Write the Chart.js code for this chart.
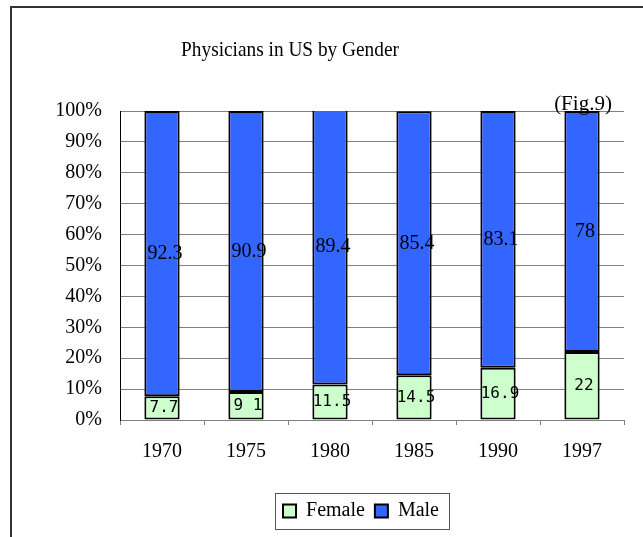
<!DOCTYPE html>
<html>
<head>
<meta charset="utf-8">
<script src="https://cdn.jsdelivr.net/npm/chart.js@4/dist/chart.umd.min.js"></script>
<style>
  html, body { margin: 0; padding: 0; background: #fff; overflow: hidden; }
  #wrap { position: relative; width: 643px; height: 537px; }
  #frame { position: absolute; left: 10px; top: 6px; width: 700px; height: 600px; border: 2px solid #333; box-sizing: border-box; }
  canvas { position: absolute; left: 0; top: 0; }
</style>
</head>
<body>
<div id="wrap">
  <div id="frame"></div>
  <canvas id="c" width="643" height="537"></canvas>
</div>
<script>
const chartTitle = 'Physicians in US by Gender';
const years = ['1970', '1975', '1980', '1985', '1990', '1997'];
const female = [7.7, 9.1, 11.5, 14.5, 16.9, 22];
const male = [92.3, 90.9, 89.4, 85.4, 83.1, 78];
const femaleLabels = ['7.7', '9 1', '11.5', '14.5', '16.9', '22'];
const maleLabels = ['92.3', '90.9', '89.4', '85.4', '83.1', '78'];
const yTicks = [0, 10, 20, 30, 40, 50, 60, 70, 80, 90, 100];

const SERIF = '"Liberation Serif", "Times New Roman", serif';
const MONO = '"DejaVu Sans Mono", monospace';

const LEGEND_DX = 49;
const LEGEND_DY = 0;

const labelPlugin = {
  id: 'labels',
  afterLayout(chart) {
    const lg = chart.legend;
    if (lg) {
      lg.left += LEGEND_DX; lg.right += LEGEND_DX;
      lg.top += LEGEND_DY; lg.bottom += LEGEND_DY;
    }
  },
  afterDraw(chart) {
    const ctx = chart.ctx;
    ctx.save();
    ctx.fillStyle = '#000';
    ctx.textAlign = 'center';
    ctx.textBaseline = 'middle';
    ctx.save();
    ctx.translate(290, 50);
    ctx.scale(0.92, 1);
    ctx.font = '21px ' + SERIF;
    ctx.fillText(chartTitle, 0, 0);
    ctx.restore();
    // legend border
    const lg = chart.legend;
    if (lg && lg.legendHitBoxes && lg.legendHitBoxes.length) {
      let l = Infinity, r = -Infinity, t = Infinity, b = -Infinity;
      lg.legendHitBoxes.forEach(h => {
        l = Math.min(l, h.left); r = Math.max(r, h.left + h.width);
        t = Math.min(t, h.top); b = Math.max(b, h.top + h.height);
      });
      ctx.strokeStyle = '#555';
      ctx.lineWidth = 1;
      ctx.strokeRect(Math.round(l - 8) + 0.5, Math.round((t + b) / 2 - 18) + 0.5, Math.round(r - l + 18), 36);
    }
    ctx.restore();
  },
  afterDatasetsDraw(chart) {
    const ctx = chart.ctx;
    ctx.save();
    ctx.fillStyle = '#000';
    ctx.textAlign = 'center';
    ctx.textBaseline = 'middle';
    const mf = chart.getDatasetMeta(0);
    ctx.font = '16px ' + MONO;
    mf.data.forEach((el, i) => {
      ctx.fillText(femaleLabels[i], el.x + 2, (el.y + el.base) / 2);
    });
    const mm = chart.getDatasetMeta(1);
    ctx.font = '20px ' + SERIF;
    mm.data.forEach((el, i) => {
      ctx.fillText(maleLabels[i], el.x + 3, (el.y + el.base) / 2);
    });
    const xs = chart.scales.x;
    const ys = chart.scales.y;
    ctx.font = '21px ' + SERIF;
    ctx.fillText('(Fig.9)', xs.getPixelForValue(5) + 1, ys.getPixelForValue(100) - 7);
    ctx.restore();
  }
};

new Chart(document.getElementById('c'), {
  type: 'bar',
  data: {
    labels: years,
    datasets: [
      { label: 'Female', data: female, backgroundColor: '#CCFFCC', borderColor: '#000', borderWidth: 2, borderSkipped: false, barPercentage: 0.42, categoryPercentage: 1 },
      { label: 'Male', data: male, backgroundColor: '#3366FF', borderColor: '#000', borderWidth: 2, borderSkipped: false, barPercentage: 0.42, categoryPercentage: 1 }
    ]
  },
  options: {
    responsive: false,
    animation: false,
    devicePixelRatio: 1,
    layout: { padding: { left: 0, right: 19, top: 111, bottom: 6 } },
    plugins: {
      title: { display: false },
      legend: {
        position: 'bottom',
        labels: {
          color: '#000',
          font: { family: SERIF, size: 20 },
          boxWidth: 13,
          boxHeight: 13,
          padding: 10,
          useBorderRadius: false,
          generateLabels(chart) {
            return chart.data.datasets.map((ds, i) => ({
              text: ds.label,
              fillStyle: ds.backgroundColor,
              strokeStyle: '#000',
              lineWidth: 2,
              fontColor: '#000',
              datasetIndex: i,
              hidden: false
            }));
          }
        }
      },
      tooltip: { enabled: false }
    },
    scales: {
      x: {
        stacked: true,
        afterFit(scale) { scale.height = 71; },
        grid: { offset: true, drawOnChartArea: false, drawTicks: true, tickLength: 5, color: '#808080' },
        border: { color: '#808080', width: 1 },
        ticks: { color: '#000', font: { family: SERIF, size: 20 }, padding: 15, maxRotation: 0 }
      },
      y: {
        stacked: true,
        min: 0,
        max: 100,
        afterFit(scale) { scale.width = 120; },
        afterBuildTicks(scale) { scale.ticks = yTicks.map(v => ({ value: v })); },
        grid: { color: '#808080', drawTicks: false, lineWidth: 1 },
        border: { color: '#000', width: 1 },
        ticks: { color: '#000', font: { family: SERIF, size: 20 }, padding: 18, callback: v => v + '%' }
      }
    }
  },
  plugins: [labelPlugin]
});
</script>
</body>
</html>
